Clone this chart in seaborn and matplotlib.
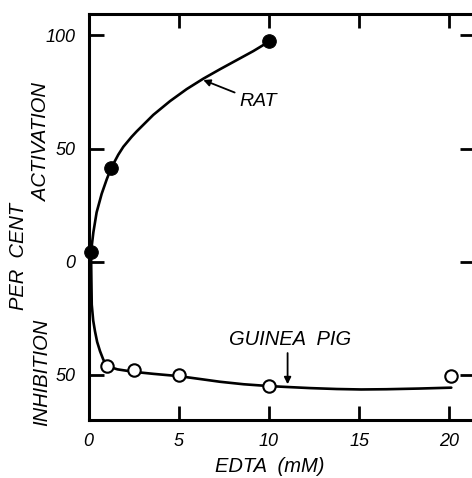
import matplotlib
matplotlib.use("Agg")
import matplotlib.pyplot as plt
import seaborn as sns
import pandas as pd

# ---- data ----
rat_x = [0.14, 1.25, 10.0]
rat_y = [4.3, 41.5, 97.5]
gp_x = [1.04, 2.52, 5.03, 10.0, 20.1]
gp_y = [-46.2, -48.1, -49.9, -54.9, -50.6]

rat_curve_x = [0.14, 0.27, 0.45, 0.73, 1.01, 1.25, 1.65, 1.93, 2.39, 2.67, 3.59, 4.52, 5.44, 6.36, 7.29, 8.21, 9.13, 10.0]
rat_curve_y = [4.3, 13.0, 21.8, 30.0, 36.4, 41.3, 47.3, 50.8, 55.2, 57.6, 64.9, 71.0, 76.3, 80.9, 85.1, 89.1, 93.1, 97.3]
gp_curve_x = [0.14, 0.16, 0.18, 0.26, 0.36, 0.48, 0.64, 0.82, 1.04, 1.6, 2.5, 3.6, 5.0, 6.2, 7.29, 8.6, 10.0, 10.98, 12.3, 13.75, 15.1, 16.5, 18.3, 20.1]
gp_curve_y = [4.3, -8.0, -19.0, -26.0, -30.8, -35.5, -39.6, -43.3, -46.2, -47.6, -48.7, -49.6, -50.6, -51.9, -53.1, -54.2, -55.0, -55.4, -55.9, -56.3, -56.5, -56.4, -56.1, -55.7]

x_ticks = [0, 5, 10, 15, 20]
x_tick_labels = ["0", "5", "10", "15", "20"]
y_ticks = [100, 50, 0, -50]
y_tick_labels = ["100", "50", "0", "50"]

sns.set_style("ticks")
plt.rcParams["font.family"] = ["Liberation Sans", "DejaVu Sans"]
plt.rcParams["text.color"] = "black"

W, H = 472, 478
fig = plt.figure(figsize=(W / 100, H / 100), dpi=100)
left_px, right_px, top_px, bottom_px = 88.5, 475.5, 14, 420
ax = fig.add_axes([left_px / W, 1 - bottom_px / H, (right_px - left_px) / W, (bottom_px - top_px) / H])

rat_curve = pd.DataFrame({"x": rat_curve_x, "y": rat_curve_y})
gp_curve = pd.DataFrame({"x": gp_curve_x, "y": gp_curve_y})
sns.lineplot(data=rat_curve, x="x", y="y", sort=False, color="black", lw=1.9, ax=ax, zorder=2)
sns.lineplot(data=gp_curve, x="x", y="y", sort=False, color="black", lw=1.9, ax=ax, zorder=2)

rat_df = pd.DataFrame({"x": rat_x, "y": rat_y})
gp_df = pd.DataFrame({"x": gp_x, "y": gp_y})
sns.scatterplot(data=rat_df, x="x", y="y", s=95, color="black", edgecolor="black", ax=ax, zorder=3, clip_on=False)
sns.scatterplot(data=gp_df, x="x", y="y", s=80, facecolor="white", edgecolor="black", linewidth=1.5, ax=ax, zorder=3)

ax.set_xlim(0, (right_px - left_px) / 18.05)
ax.set_ylim(-70, 109.5)
ax.set_xticks(x_ticks)
ax.set_xticklabels(x_tick_labels)
ax.set_yticks(y_ticks)
ax.set_yticklabels(y_tick_labels)
ax.tick_params(direction="in", length=10, width=2, top=True, right=True,
               labelsize=13, pad=9.5, color="black", labelcolor="black")
ax.yaxis.set_tick_params(which="major", length=11)
for lab in ax.get_xticklabels() + ax.get_yticklabels():
    lab.set_fontstyle("italic")
for sp in ax.spines.values():
    sp.set_linewidth(2.2)
    sp.set_color("black")
    sp.set_visible(True)

ax.set_xlabel("")
ax.set_ylabel("")

fs = 14.5
fig.text(270 / W, 1 - 467 / H, "EDTA  (mM)", fontsize=fs, fontstyle="italic", ha="center", va="center")
fig.text(19 / W, 1 - 256 / H, "PER  CENT", fontsize=fs, fontstyle="italic", rotation=90, ha="center", va="center")
fig.text(42 / W, 1 - 142 / H, "ACTIVATION", fontsize=fs, fontstyle="italic", rotation=90, ha="center", va="center")
fig.text(42 / W, 1 - 372 / H, "INHIBITION", fontsize=fs, fontstyle="italic", rotation=90, ha="center", va="center")

ax.annotate("RAT", xy=(6.36, 80.3), xytext=(8.35, 70.7), fontsize=14, fontstyle="italic",
            ha="left", va="center",
            arrowprops=dict(arrowstyle="-|>", color="black", lw=1.3, mutation_scale=10,
                            shrinkA=1, shrinkB=0))
ax.text(7.8, -34.5, "GUINEA  PIG", fontsize=fs, fontstyle="italic", ha="left", va="center")
ax.annotate("", xy=(11.03, -54.2), xytext=(11.03, -40.4),
            arrowprops=dict(arrowstyle="-|>", color="black", lw=1.3, mutation_scale=10,
                            shrinkA=0, shrinkB=0))

fig.savefig("out.png", dpi=100)
